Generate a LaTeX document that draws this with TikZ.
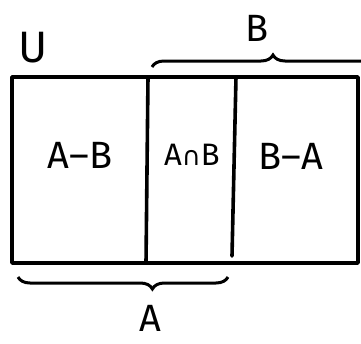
\documentclass[tikz,border=0pt]{standalone}
\usepackage{fontspec}
\setmainfont{Fira Sans}
\newfontfamily\symfont{DejaVu Sans}
\usetikzlibrary{decorations.pathreplacing}
\begin{document}
\begin{tikzpicture}[x=1pt,y=-1pt,
  edge/.style={line width=3.6pt, line cap=round, line join=round},
  lbl/.style={font=\fontsize{38}{42}\selectfont, inner sep=0pt},
  bracepath/.style={line width=3pt, decorate,
    decoration={brace, amplitude=12pt, aspect=#1}}]
\useasboundingbox (0,0) rectangle (361,343);
\fill[white] (0,0) rectangle (361,343);
% universal set and the three regions
\coordinate (tl) at (12,77);
\coordinate (br) at (358,263);
\draw[edge] (tl) rectangle (br);
\coordinate (m1t) at (148,77);
\coordinate (m1b) at (146,263);
\coordinate (m2t) at (236,77);
\coordinate (m2b) at (232,256);
\draw[edge] (m1t) -- (m1b);
\draw[edge] (m2t) -- (m2b);
\node[lbl] (ab) at (80,155) {A–B};
\node[lbl, font=\fontsize{31}{34}\selectfont] (anb) at (192,155) {A{\symfont\fontsize{26}{30}\selectfont ∩}B};
\node[lbl] (ba) at (291,156) {B–A};
\node[lbl, font=\fontsize{44}{48}\selectfont] (u) at (33,48) {U};
% braces for B (top) and A (bottom)
\coordinate (bl) at (152,67);
\coordinate (brr) at (372,67);
\draw[bracepath=0.55] (bl) -- (brr);
\node[lbl] (b) at (257,28) {B};
\coordinate (al) at (18,277);
\coordinate (ar) at (228,277);
\draw[bracepath=0.36] (ar) -- (al);
\node[lbl] (a) at (150,318) {A};
\end{tikzpicture}
\end{document}
